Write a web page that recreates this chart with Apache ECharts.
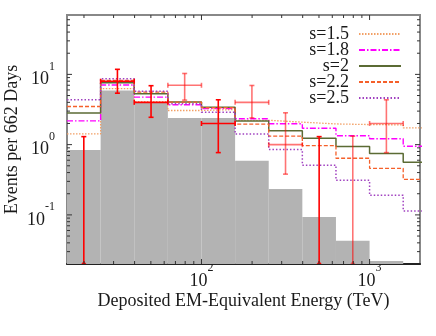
<!DOCTYPE html>
<html><head><meta charset="utf-8">
<script src="https://cdn.jsdelivr.net/npm/echarts@6/dist/echarts.min.js"></script>
<style>html,body{margin:0;padding:0;background:#fff}#c{width:436px;height:336px}</style>
</head><body><div id="c"></div>
<script>
// ---------- data ----------
const binEdges = [15.85, 25.12, 39.81, 63.10, 100, 158.5, 251.2, 398.1, 631.0, 1000, 1585, 2512];
const bgCounts = [0.84, 5.9, 4.0, 2.4, 2.4, 0.59, 0.233, 0.093, 0.043, 0.022];
const modelNames = ['s=1.5', 's=1.8', 's=2', 's=2.2', 's=2.5'];
const model_s15 = [1.42, 6.25, 4.1, 3.06, 3.16, 2.22, 2.09, 1.97, 1.93, 1.91, 1.73];
const model_s18 = [2.18, 7.06, 4.75, 3.70, 3.25, 2.33, 1.98, 1.71, 1.34, 1.21, 0.95];
const model_s20 = [2.81, 7.6, 5.3, 4.04, 3.4, 2.17, 1.58, 1.23, 0.94, 0.75, 0.56];
const model_s22 = [3.49, 8.2, 5.6, 4.04, 3.35, 1.96, 1.32, 0.97, 0.64, 0.46, 0.32];
const model_s25 = [4.34, 8.68, 5.75, 3.81, 2.9, 1.42, 0.85, 0.51, 0.31, 0.19, 0.114];
const obsCounts = [0, 8, 4, 7, 2, 4, 1, 0, 0, 2];
const obsHigh = [1.3, 11.8, 6.9, 10.3, 4.35, 6.95, 2.84, 1.3, 1.32, 4.35];
const obsLow = [0, 5.4, 2.45, 4.3, 0.77, 2.4, 0.38, 0, 0, 0.77];
const xTickLabels = [100, 1000];
const yTickLabels = [0.1, 1, 10];
const xRange = [15.85, 1995];
const yRange = [0.02, 70];

// ---------- rendering ----------
const SERIF = 'Liberation Serif, DejaVu Serif, serif';
const models = [model_s15, model_s18, model_s20, model_s22, model_s25];
const modelStyles = [
  {color: '#f2a066', type: [1.5, 1.5], width: 1.3},
  {color: '#ff00ff', type: [6, 2, 1.5, 2], width: 1.4},
  {color: '#5b6b34', type: 'solid', width: 1.5},
  {color: '#f5602a', type: [4, 2], width: 1.3},
  {color: '#a040c0', type: [1.5, 2], width: 1.5}
];
const fadedPts = new Set([3, 5, 6, 8, 9]);

function stepData(vals) {
  const out = [];
  vals.forEach((v, i) => { out.push([binEdges[i], v]); out.push([binEdges[i + 1], v]); });
  return out;
}
function isDecade(v) { const l = Math.log10(v); return Math.abs(l - Math.round(l)) < 1e-6; }
function decadeLabel(v) {
  if (!isDecade(v)) return '';
  const e = Math.round(Math.log10(v));
  return '{b|10}{s|' + e + '}';
}
const labelRich = {
  b: {fontFamily: SERIF, fontSize: 18, color: '#1a1a1a', lineHeight: 28, verticalAlign: 'bottom'},
  s: {fontFamily: SERIF, fontSize: 12, color: '#1a1a1a', lineHeight: 12, verticalAlign: 'top'}
};

// tick positions (axis decoration)
const xTicks = [];
for (let k = 1; k <= 3; k++) for (let m = 1; m <= 9; m++) {
  const v = m * Math.pow(10, k);
  if (v >= xRange[0] && v <= xRange[1]) xTicks.push([v, yRange[0], m === 1 ? 1 : 0]);
}
const yTicks = [];
for (let k = -2; k <= 1; k++) for (let m = 1; m <= 9; m++) {
  const v = m * Math.pow(10, k);
  if (v > yRange[0] * 1.0001 && v < yRange[1] * 0.9999) yTicks.push([xRange[0], v, m === 1 ? 1 : 0]);
}

const series = [];
series.push({
  type: 'custom', name: 'bg', z: 1, silent: true,
  data: bgCounts.map((v, i) => [binEdges[i], binEdges[i + 1], v]),
  encode: {x: [0, 1], y: 2},
  renderItem: function (params, api) {
    const p1 = api.coord([api.value(0), api.value(2)]);
    const p2 = api.coord([Math.min(api.value(1), xRange[1]), yRange[0]]);
    return {type: 'rect', shape: {x: p1[0], y: p1[1], width: p2[0] - p1[0], height: p2[1] - p1[1]},
      style: {fill: '#b3b3b3'}};
  }
});
modelNames.forEach((n, i) => {
  series.push({
    type: 'line', name: n, z: 2, silent: true, symbol: 'none', showSymbol: false,
    data: stepData(models[i]),
    lineStyle: {color: modelStyles[i].color, type: modelStyles[i].type, width: modelStyles[i].width},
    itemStyle: {color: modelStyles[i].color},
    clip: true
  });
});
series.push({
  type: 'custom', name: 'obs', z: 3, silent: true,
  data: obsCounts.map((n, i) => [Math.sqrt(binEdges[i] * binEdges[i + 1]), n, obsLow[i], obsHigh[i], binEdges[i], binEdges[i + 1], i]),
  encode: {x: 0, y: 3},
  renderItem: function (params, api) {
    const xc = api.value(0), n = api.value(1), lo = api.value(2), hi = api.value(3);
    const bl = api.value(4), bh = api.value(5), idx = api.value(6);
    const col = fadedPts.has(idx) ? 'rgba(255,0,0,0.55)' : '#ff0000';
    const st = {stroke: col, lineWidth: 1.6};
    const top = api.coord([xc, hi]);
    const bot = n > 0 ? api.coord([xc, lo]) : api.coord([xc, yRange[0]]);
    const ch = [];
    ch.push({type: 'line', shape: {x1: top[0], y1: top[1], x2: bot[0], y2: bot[1]}, style: st});
    ch.push({type: 'line', shape: {x1: top[0] - 2.5, y1: top[1], x2: top[0] + 2.5, y2: top[1]}, style: st});
    if (n > 0) {
      ch.push({type: 'line', shape: {x1: bot[0] - 2.5, y1: bot[1], x2: bot[0] + 2.5, y2: bot[1]}, style: st});
      const l = api.coord([bl, n]), r = api.coord([bh, n]);
      ch.push({type: 'line', shape: {x1: l[0], y1: l[1], x2: r[0], y2: r[1]}, style: st});
      ch.push({type: 'line', shape: {x1: l[0], y1: l[1] - 2.5, x2: l[0], y2: l[1] + 2.5}, style: st});
      ch.push({type: 'line', shape: {x1: r[0], y1: r[1] - 2.5, x2: r[0], y2: r[1] + 2.5}, style: st});
    } else {
      ch.push({type: 'polygon', shape: {points: [[bot[0] - 2.5, bot[1]], [bot[0] + 2.5, bot[1]], [bot[0], bot[1] - 3]]}, style: {fill: col}});
    }
    return {type: 'group', children: ch};
  }
});
series.push({
  type: 'custom', name: 'xticks', z: 5, silent: true, data: xTicks, encode: {x: 0, y: 1},
  renderItem: function (params, api) {
    const v = api.value(0), L = api.value(2) ? 5 : 3;
    const b = api.coord([v, yRange[0]]), t = api.coord([v, yRange[1]]);
    const st = {stroke: '#333', lineWidth: 1};
    return {type: 'group', children: [
      {type: 'line', shape: {x1: b[0], y1: b[1], x2: b[0], y2: b[1] - L}, style: st},
      {type: 'line', shape: {x1: t[0], y1: t[1], x2: t[0], y2: t[1] + L}, style: st}
    ]};
  }
});
series.push({
  type: 'custom', name: 'yticks', z: 5, silent: true, data: yTicks, encode: {x: 0, y: 1},
  renderItem: function (params, api) {
    const v = api.value(1), L = api.value(2) ? 5 : 3;
    const l = api.coord([xRange[0], v]), r = api.coord([xRange[1], v]);
    const st = {stroke: '#333', lineWidth: 1};
    return {type: 'group', children: [
      {type: 'line', shape: {x1: l[0], y1: l[1], x2: l[0] + L, y2: l[1]}, style: st},
      {type: 'line', shape: {x1: r[0], y1: r[1], x2: r[0] - L, y2: r[1]}, style: st}
    ]};
  }
});

const chart = echarts.init(document.getElementById('c'), null, {renderer: 'canvas'});
chart.setOption({
  animation: false,
  backgroundColor: '#ffffff',
  grid: {left: 67, top: 15, right: 16, bottom: 72, outerBoundsMode: 'none', containLabel: false,
    show: true, borderColor: '#888', borderWidth: 2, backgroundColor: 'transparent'},
  legend: {
    data: modelNames, orient: 'vertical', right: 29, top: 20, align: 'right',
    itemWidth: 42, itemHeight: 12, itemGap: -2, selectedMode: false,
    itemStyle: {opacity: 0, borderWidth: 0},
    textStyle: {fontFamily: SERIF, fontSize: 18, color: '#1a1a1a', padding: [0, 5, 0, 0]}
  },
  xAxis: {
    type: 'log', logBase: 10, min: xRange[0], max: xRange[1],
    name: 'Deposited EM-Equivalent Energy (TeV)', nameLocation: 'middle', nameGap: 28, nameMoveOverlap: false,
    nameTextStyle: {fontFamily: SERIF, fontSize: 18, color: '#1a1a1a'},
    axisLine: {show: true, lineStyle: {color: '#222', width: 2}},
    axisTick: {show: false}, splitLine: {show: false}, minorTick: {show: false},
    axisLabel: {margin: -2, formatter: v => xTickLabels.some(t => Math.abs(t - v) / t < 1e-6) ? decadeLabel(v) : '', rich: labelRich, showMinLabel: false, showMaxLabel: false}
  },
  yAxis: {
    type: 'log', logBase: 10, min: yRange[0], max: yRange[1],
    name: 'Events per 662 Days', nameLocation: 'middle', nameGap: 46, nameMoveOverlap: false,
    nameTextStyle: {fontFamily: SERIF, fontSize: 18, color: '#1a1a1a'},
    axisLine: {show: true, lineStyle: {color: '#888', width: 2}},
    axisTick: {show: false}, splitLine: {show: false},
    axisLabel: {margin: 12, formatter: v => yTickLabels.some(t => Math.abs(t - v) / t < 1e-6) ? decadeLabel(v) : '', rich: labelRich}
  },
  series: series
});
</script></body></html>
